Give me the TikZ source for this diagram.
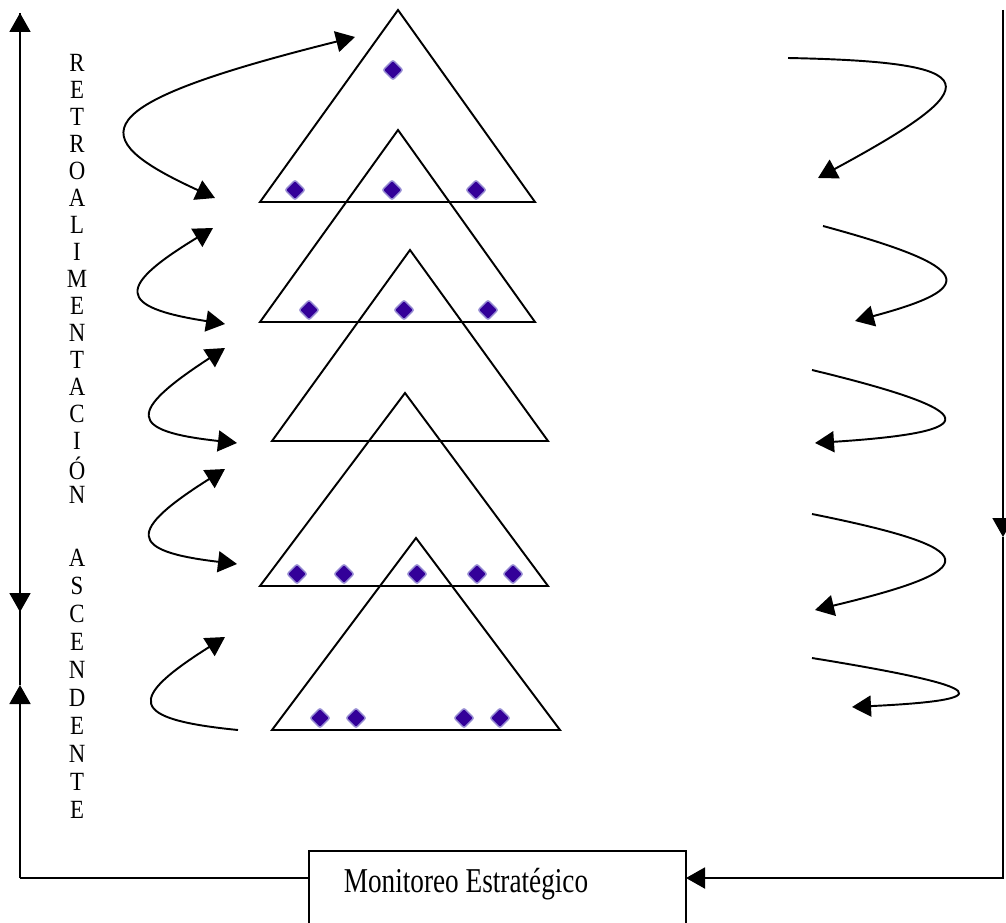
\documentclass[tikz,border=0pt]{standalone}
\usepackage{fontspec}
\setmainfont{Liberation Serif}
\usepackage{graphicx}
\usetikzlibrary{arrows.meta,shapes.geometric}
\definecolor{dotfill}{RGB}{51,0,153}
\definecolor{dotedge}{RGB}{150,140,210}
\tikzset{
  level/.style={
    draw=black,
    line width=1.1pt,
    line join=miter
  },
  memberdot/.style={
    diamond,
    fill=dotfill,
    draw=dotedge,
    line width=0.8pt,
    rounded corners=1.2pt,
    inner sep=0pt,
    minimum size=0.41cm
  },
  vletter/.style={
    font=\fontsize{13}{15}\selectfont,
    inner sep=0pt
  },
  monbox/.style={
    draw=black,
    line width=0.9pt,
    minimum width=7.54cm,
    minimum height=2cm,
    inner sep=0pt
  },
  arrow/.style={-{Triangle[length=0.38cm,width=0.42cm]}, line width=1.1pt},
  dblarrow/.style={{Triangle[length=0.38cm,width=0.42cm]}-{Triangle[length=0.38cm,width=0.42cm]}, line width=1.1pt},
  plainline/.style={line width=1.1pt}
}

\begin{document}
\begin{tikzpicture}[x=0.02cm, y=-0.02cm]
  \clip (0,0) rectangle (1006,922);

  % the five overlapping levels
  \draw[level] (398,10) -- (535,202) -- (260,202) -- cycle;
  \draw[level] (398,130) -- (535,322) -- (260,322) -- cycle;
  \draw[level] (410,250) -- (548,441) -- (272,441) -- cycle;
  \draw[level] (405,393) -- (548,586) -- (260,586) -- cycle;
  \draw[level] (416,538) -- (560,730) -- (272,730) -- cycle;

  \foreach \x/\y [count=\i] in {393/70, 295/190, 392/190, 476/190,
      309/310, 404/310, 488/310,
      297/574, 344/574, 417/574, 477/574, 513/574,
      320/718, 356/718, 464/718, 500/718}
    \node[memberdot] (d\i) at (\x,\y) {};

  % vertical label
  \foreach \ch [count=\i from 0] in {R,E,T,R,O,A,L,I,M,E,N,T,A,C,I,Ó,N}
    \node[vletter] (ra\i) at (77,63+27*\i) {\scalebox{1}[1.15]{\ch}};
  \foreach \ch [count=\i from 0] in {A,S,C,E,N,D,E,N,T,E}
    \node[vletter] (as\i) at (77,558+28*\i) {\scalebox{1}[1.15]{\ch}};

  % feedback between levels (left)
  \foreach \n/\tx/\ty/\bx/\by/\cx/\ca/\cb in {1/355/37/215/198/82/105/137,
      2/213/228/225/324/116/287/307,
      3/225/348/237/443/127/412/431,
      4/225/469/237/564/127/531/551}{
    \coordinate (lt\n) at (\tx,\ty);
    \coordinate (lb\n) at (\bx,\by);
    \draw[dblarrow] (lt\n) .. controls (\cx,\ca) and (\cx,\cb) .. (lb\n);
  }
  \coordinate (lt5) at (225,637);
  \coordinate (lb5) at (238,730);
  \draw[arrow] (lb5) .. controls (127,719) and (127,699) .. (lt5);

  % descending flow (right)
  \foreach \n/\tx/\ty/\hx/\hy/\cx/\ca/\cb in {1/788/58/818/178/990/62/85,
      2/823/226/855/321/978/268/288,
      3/812/370/815/443/986/412/432,
      4/812/514/815/610/986/549/569,
      5/812/658/852/707/997/688/700}{
    \coordinate (rt\n) at (\tx,\ty);
    \coordinate (rh\n) at (\hx,\hy);
    \draw[arrow] (rt\n) .. controls (\cx,\ca) and (\cx,\cb) .. (rh\n);
  }

  % monitoring loop
  \node[monbox, anchor=north west] (mon) at (308,850) {};
  \node[font=\fontsize{15.5}{18}\selectfont, inner sep=0pt] (montxt) at (466,884)
    {\scalebox{1}[1.28]{Monitoreo Estratégico}};

  \coordinate (monl) at (308,878);
  \coordinate (monr) at (686,878);
  \coordinate (lcorner) at (20,878);
  \coordinate (lup) at (20,685);
  \coordinate (ldown) at (20,612);
  \coordinate (ltop) at (20,13);
  \coordinate (rtop) at (1003,10);
  \coordinate (rmid) at (1003,537);
  \coordinate (rcorner) at (1003,878);

  \draw[plainline] (monl) -- (lcorner);
  \draw[arrow] (lcorner) -- (lup);
  \draw[arrow] (lup) -- (ltop);
  \draw[arrow] (ltop) -- (ldown);
  \draw[arrow] (rtop) -- (rmid);
  \draw[arrow] (rmid) -- (rcorner) -- (monr);
\end{tikzpicture}
\end{document}
